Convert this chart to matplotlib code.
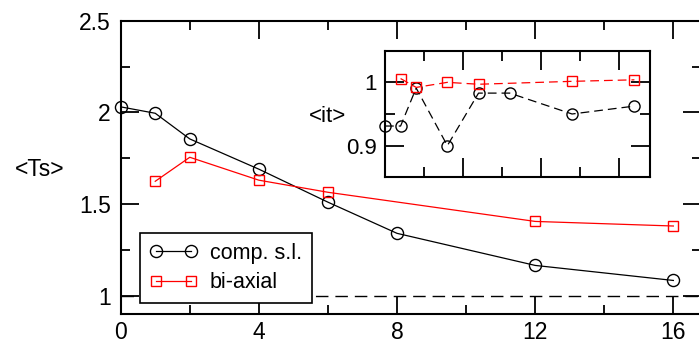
import matplotlib
matplotlib.use("Agg")
import matplotlib.pyplot as plt
from matplotlib.ticker import MultipleLocator

plt.rcParams['font.family'] = ['Liberation Sans', 'DejaVu Sans']

# main panel: <Ts> vs x
x_comp = [0, 1, 2, 4, 6, 8, 12, 16]
ts_comp = [2.03, 1.995, 1.855, 1.69, 1.51, 1.34, 1.165, 1.083]
x_biax = [1, 2, 4, 6, 12, 16]
ts_biax = [1.624, 1.755, 1.63, 1.564, 1.405, 1.38]

# inset: <it> vs x
it_comp = [0.931, 0.931, 0.991, 0.900, 0.983, 0.983, 0.950, 0.9625]
it_biax = [1.006, 0.992, 1.000, 0.997, 1.0016, 1.004]

main_xticks = [0, 4, 8, 12, 16]
main_yticks = [1, 1.5, 2, 2.5]
main_ylabels = ['1', '1.5', '2', '2.5']


def style_ticks(ax, major_len, minor_len, pad_x, pad_y, size):
    ax.tick_params(which='both', direction='in', top=True, right=True, width=1.3)
    ax.tick_params(which='major', length=major_len, labelsize=size)
    ax.tick_params(which='minor', length=minor_len)
    ax.tick_params(axis='x', pad=pad_x)
    ax.tick_params(axis='y', pad=pad_y)
    for s in ax.spines.values():
        s.set_linewidth(1.5)


fig = plt.figure(figsize=(6.99, 3.45), dpi=100)
ax = fig.add_axes([120.7 / 699, 1 - 314 / 345, 580.3 / 699, 293.3 / 345])

ax.axhline(1.0, color='black', lw=1.0, ls=(0, (9, 5)), zorder=1)
ax.plot(x_comp, ts_comp, color='black', lw=0.9, marker='o', ms=8.7,
        mfc='none', mec='black', mew=1.0, label='comp. s.l.', zorder=3,
        clip_on=False)
ax.plot(x_biax, ts_biax, color='#ff0000', lw=0.9, marker='s', ms=6.5,
        mfc='none', mec='#ff0000', mew=1.0, label='bi-axial', zorder=3)

ax.set_xlim(0, 16.8)
ax.set_ylim(0.9, 2.5)
ax.set_xticks(main_xticks)
ax.set_yticks(main_yticks)
ax.set_yticklabels(main_ylabels)
ax.xaxis.set_minor_locator(MultipleLocator(2))
ax.yaxis.set_minor_locator(MultipleLocator(0.25))
style_ticks(ax, 13, 6.5, 5, 7, 16.5)

leg = ax.legend(loc='lower left', bbox_to_anchor=(140 / 699, 1 - 303 / 345),
                bbox_transform=fig.transFigure, borderaxespad=0, numpoints=2,
                fontsize=15.5, fancybox=False, edgecolor='black', framealpha=1,
                handlelength=2.2, borderpad=0.45, labelspacing=0.4,
                handletextpad=0.6)
leg.get_frame().set_linewidth(1.2)
leg.set_zorder(5)

fig.text(40 / 699, 1 - 170 / 345, '<Ts>', fontsize=16.5, ha='center', va='center')

# inset
ins = fig.add_axes([385 / 699, 1 - 177.3 / 345, 265 / 699, 126.6 / 345])
ins.plot(x_comp, it_comp, color='black', lw=0.9, ls=(0, (7, 4)), marker='o',
         ms=8, mfc='none', mec='black', mew=1.0, clip_on=False, zorder=3)
ins.plot(x_biax, it_biax, color='#ff0000', lw=0.9, ls=(0, (7, 4)), marker='s',
         ms=6.5, mfc='none', mec='#ff0000', mew=1.0, clip_on=False, zorder=3)
ins.set_xlim(0, 17)
ins.set_ylim(0.85, 1.05)
ins.set_xticks([5, 10, 15])
ins.set_xticklabels([])
ins.xaxis.set_minor_locator(MultipleLocator(2.5))
ins.set_yticks([0.9, 1.0])
ins.set_yticklabels(['0.9', '1'])
ins.yaxis.set_minor_locator(MultipleLocator(0.05))
style_ticks(ins, 14, 7, 6, 6, 16)

fig.text(327 / 699, 1 - 117 / 345, '<it>', fontsize=16, ha='center', va='center')

fig.savefig('out.png', dpi=100)
